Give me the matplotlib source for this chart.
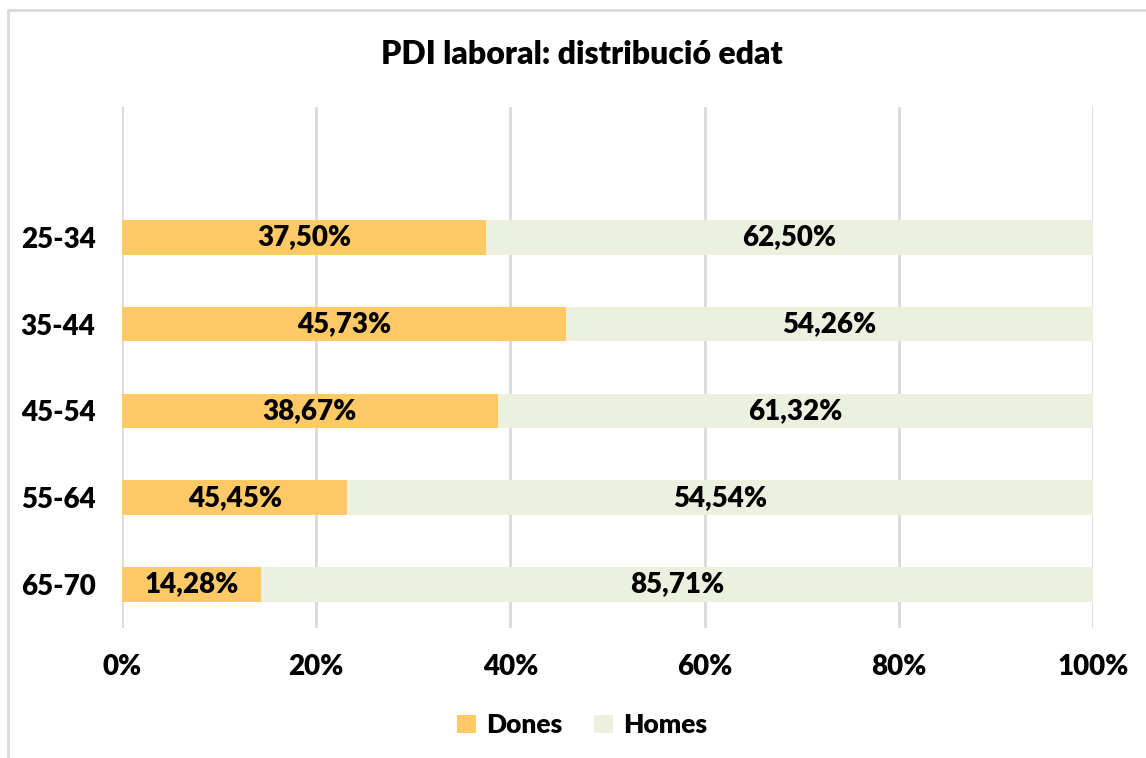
import matplotlib
matplotlib.use("Agg")
import matplotlib.pyplot as plt
from matplotlib.patches import Rectangle

plt.rcParams["font.family"] = ["Lato", "DejaVu Sans"]
plt.rcParams["font.weight"] = "heavy"

# data
groups = ["25-34", "35-44", "45-54", "55-64", "65-70"]
dones = [37.50, 45.73, 38.67, 23.20, 14.28]
homes = [62.50, 54.26, 61.32, 76.80, 85.71]
dones_labels = ["37,50%", "45,73%", "38,67%", "45,45%", "14,28%"]
homes_labels = ["62,50%", "54,26%", "61,32%", "54,54%", "85,71%"]
x_ticks = [0, 20, 40, 60, 80, 100]

c_dones = "#FFCA66"
c_homes = "#EBF0DF"
grid_c = "#D9D9D9"
W = "heavy"


def main():
    fig = plt.figure(figsize=(11.46, 7.58), dpi=100)
    ax = fig.add_axes([0.1065, 0.1715, 0.8473, 0.6873])

    # chart frame (runs off the right and bottom edges)
    fig.patches.append(Rectangle((8 / 1146, -0.05), 1.2, 1 - 10 / 758 + 0.05,
                                 transform=fig.transFigure, fill=False,
                                 edgecolor=grid_c, linewidth=2))

    pos = list(range(len(groups)))
    total = [d + h for d, h in zip(dones, homes)]
    d_share = [100 * d / t for d, t in zip(dones, total)]
    h_share = [100 * h / t for h, t in zip(homes, total)]

    ax.barh(pos, d_share, height=0.4, color=c_dones, label="Dones", zorder=2)
    ax.barh(pos, h_share, left=d_share, height=0.4, color=c_homes, label="Homes", zorder=2)

    for i in pos:
        ax.text(d_share[i] / 2, i, dones_labels[i], ha="center", va="center",
                fontsize=20, fontweight=W, zorder=3)
        ax.text(d_share[i] + h_share[i] / 2, i, homes_labels[i], ha="center", va="center",
                fontsize=20, fontweight=W, zorder=3)

    ax.set_xlim(0, 100)
    ax.set_ylim(len(groups) - 0.5, -1.5)
    ax.set_xticks(x_ticks)
    ax.set_xticklabels(["%d%%" % v for v in x_ticks], fontsize=20, fontweight=W)
    ax.set_yticks(pos)
    ax.set_yticklabels(groups, fontsize=20, fontweight=W)
    ax.tick_params(length=0)
    ax.tick_params(axis="x", pad=19)
    ax.tick_params(axis="y", pad=19)
    for s in ax.spines.values():
        s.set_visible(False)
    ax.grid(axis="x", color=grid_c, linewidth=2, zorder=0)
    ax.set_axisbelow(True)

    fig.text(0.508, 1 - 55 / 758, "PDI laboral: distribució edat", ha="center", va="center",
             fontsize=23, fontweight=W)

    fig.legend(loc="center", bbox_to_anchor=(0.508, 1 - 725 / 758), ncol=2, frameon=False,
               prop={"size": 19, "weight": W}, handlelength=0.7, handleheight=0.7,
               handletextpad=0.4, columnspacing=1.2)

    fig.savefig("out.png", dpi=100)


if __name__ == "__main__":
    main()
